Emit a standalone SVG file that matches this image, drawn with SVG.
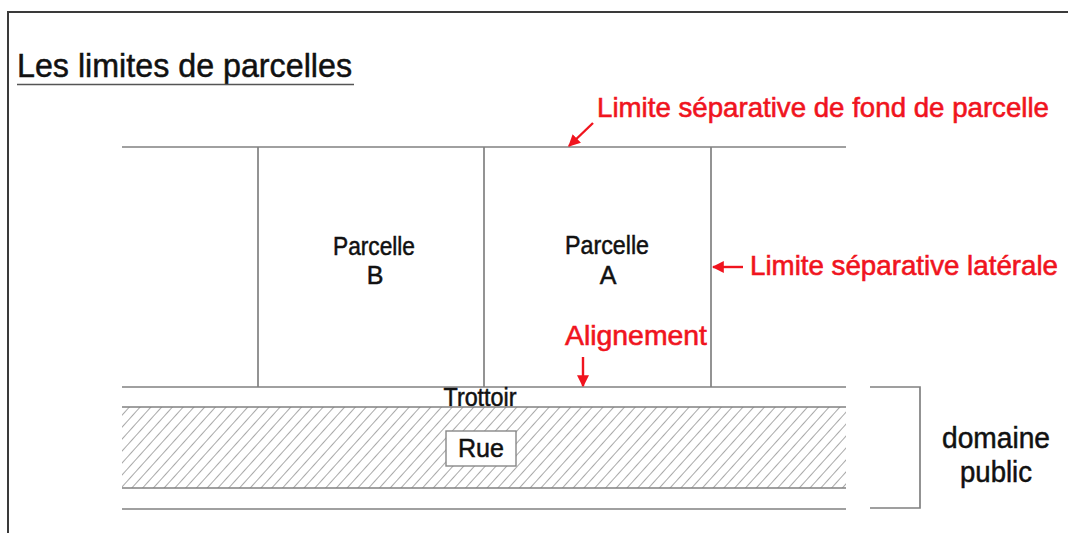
<svg xmlns="http://www.w3.org/2000/svg" width="1068" height="533" viewBox="0 0 1068 533">
  <style>
    .ln { stroke: #808080; stroke-width: 1.7; fill: none; }
    .blk { font-family: "Liberation Sans", Arial, sans-serif; fill: #111; stroke: #111; stroke-width: 0.5; }
    .red { font-family: "Liberation Sans", Arial, sans-serif; fill: #f0141e; stroke: #f0141e; stroke-width: 0.6; font-size: 28px; }
    .arr { stroke: #f0141e; stroke-width: 2.4; fill: none; }
  </style>
  <defs>
    <pattern id="hatch" patternUnits="userSpaceOnUse" width="8" height="8" patternTransform="rotate(42)">
      <line x1="0" y1="0" x2="0" y2="8" stroke="#7a7a7a" stroke-width="1.3"/>
    </pattern>
    <marker id="ah" viewBox="0 0 10 10" refX="9" refY="5" markerWidth="5" markerHeight="5" orient="auto" markerUnits="strokeWidth">
      <path d="M0,0 L10,5 L0,10 z" fill="#f0141e"/>
    </marker>
  </defs>
  <rect x="0" y="0" width="1068" height="533" fill="#fff"/>
  <rect x="8" y="12" width="1080" height="540" fill="none" stroke="#3a3a3a" stroke-width="2"/>

  <g id="title">
    <text class="blk" x="17" y="77" font-size="34" textLength="335" lengthAdjust="spacingAndGlyphs">Les limites de parcelles</text>
    <line x1="17" y1="84.5" x2="354" y2="84.5" stroke="#555" stroke-width="1.6"/>
  </g>

  <g id="parcels">
    <line class="ln" x1="122" y1="147" x2="846" y2="147"/>
    <line class="ln" x1="258" y1="147" x2="258" y2="387"/>
    <line class="ln" x1="484" y1="147" x2="484" y2="387"/>
    <line class="ln" x1="711" y1="147" x2="711" y2="387"/>
  </g>

  <g id="parcelle-b">
    <text class="blk" x="374" y="255" font-size="25" text-anchor="middle" textLength="82" lengthAdjust="spacingAndGlyphs">Parcelle</text>
    <text class="blk" x="375" y="284" font-size="25" text-anchor="middle">B</text>
  </g>
  <g id="parcelle-a">
    <text class="blk" x="607" y="254" font-size="25" text-anchor="middle" textLength="84" lengthAdjust="spacingAndGlyphs">Parcelle</text>
    <text class="blk" x="608" y="284" font-size="25" text-anchor="middle">A</text>
  </g>

  <g id="trottoir">
    <line class="ln" x1="122" y1="387" x2="846" y2="387"/>
    <text class="blk" x="480" y="406" font-size="25" text-anchor="middle" textLength="73" lengthAdjust="spacingAndGlyphs">Trottoir</text>
  </g>

  <g id="rue-band">
    <rect x="122" y="407" width="724" height="81" fill="url(#hatch)"/>
    <line class="ln" x1="122" y1="407" x2="846" y2="407"/>
    <line class="ln" x1="122" y1="488" x2="846" y2="488"/>
    <line class="ln" x1="122" y1="509" x2="846" y2="509"/>
  </g>
  <g id="rue">
    <rect x="446" y="431" width="70" height="35" fill="#fff" stroke="#888" stroke-width="1.4"/>
    <text class="blk" x="481" y="457" font-size="26" text-anchor="middle" textLength="46" lengthAdjust="spacingAndGlyphs">Rue</text>
  </g>

  <g id="domaine-public">
    <path class="ln" d="M870,387 H920 V508 H870"/>
    <text class="blk" x="996" y="448" font-size="29" text-anchor="middle" textLength="108" lengthAdjust="spacingAndGlyphs">domaine</text>
    <text class="blk" x="996" y="482" font-size="29" text-anchor="middle" textLength="72" lengthAdjust="spacingAndGlyphs">public</text>
  </g>

  <g id="labels">
    <text class="red" x="597" y="117" font-size="27" textLength="452" lengthAdjust="spacingAndGlyphs">Limite séparative de fond de parcelle</text>
    <text class="red" x="750" y="275" font-size="27" textLength="308" lengthAdjust="spacingAndGlyphs">Limite séparative latérale</text>
    <text class="red" x="565" y="345" textLength="142" lengthAdjust="spacingAndGlyphs">Alignement</text>
  </g>

  <g id="connectors">
    <line class="arr" x1="593" y1="123" x2="569" y2="146" marker-end="url(#ah)"/>
    <line class="arr" x1="743" y1="267" x2="713" y2="267" marker-end="url(#ah)"/>
    <line class="arr" x1="583" y1="357" x2="583" y2="386" marker-end="url(#ah)"/>
  </g>
</svg>
